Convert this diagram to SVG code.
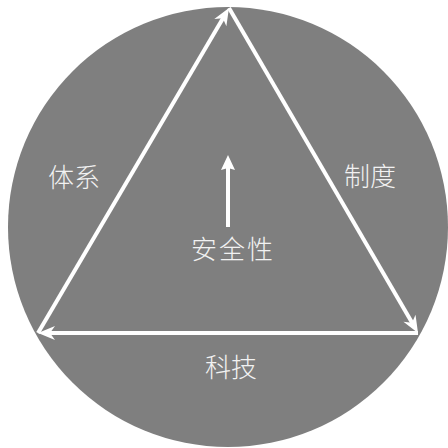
<svg xmlns="http://www.w3.org/2000/svg" width="448" height="448" viewBox="0 0 448 448">
<style>
.lbl{font-family:"Noto Sans CJK SC","Noto Sans",sans-serif;font-weight:300;font-size:26px;fill:#f2f2f2;text-anchor:middle}
.edge{stroke:#ffffff;stroke-width:4;fill:none}
</style>
<defs>
<marker id="ah" markerUnits="userSpaceOnUse" markerWidth="20" markerHeight="16" viewBox="-10 -8 20 16" refX="0" refY="0" orient="auto">
<path d="M8,0 L-9,-7 L-4,0 L-9,7 Z" fill="#ffffff"/>
</marker>
<marker id="ahs" markerUnits="userSpaceOnUse" markerWidth="20" markerHeight="20" viewBox="-10 -10 20 20" refX="0" refY="0" orient="auto">
<path d="M8,0 L-7,-7 L-5,0 L-7,7 Z" fill="#ffffff"/>
</marker>
</defs>
<g id="background">
<circle cx="228" cy="227" r="220" fill="#7f7f7f"/>
</g>
<g id="connectors">
<line class="edge" x1="38" y1="333" x2="224.9" y2="14.9" marker-end="url(#ah)"/>
<line class="edge" x1="229" y1="8" x2="414" y2="326.1" marker-end="url(#ah)"/>
<line class="edge" x1="418" y1="333" x2="46" y2="333" marker-end="url(#ah)"/>
<line class="edge" stroke-width="3" x1="228" y1="227" x2="228" y2="163" marker-end="url(#ahs)"/>
</g>
<g id="node-tixi"><text class="lbl" x="74" y="187">体系</text></g>
<g id="node-zhidu"><text class="lbl" x="370" y="186">制度</text></g>
<g id="node-anquanxing"><text class="lbl" x="233" y="259" letter-spacing="2">安全性</text></g>
<g id="node-keji"><text class="lbl" x="231" y="377">科技</text></g>
</svg>
